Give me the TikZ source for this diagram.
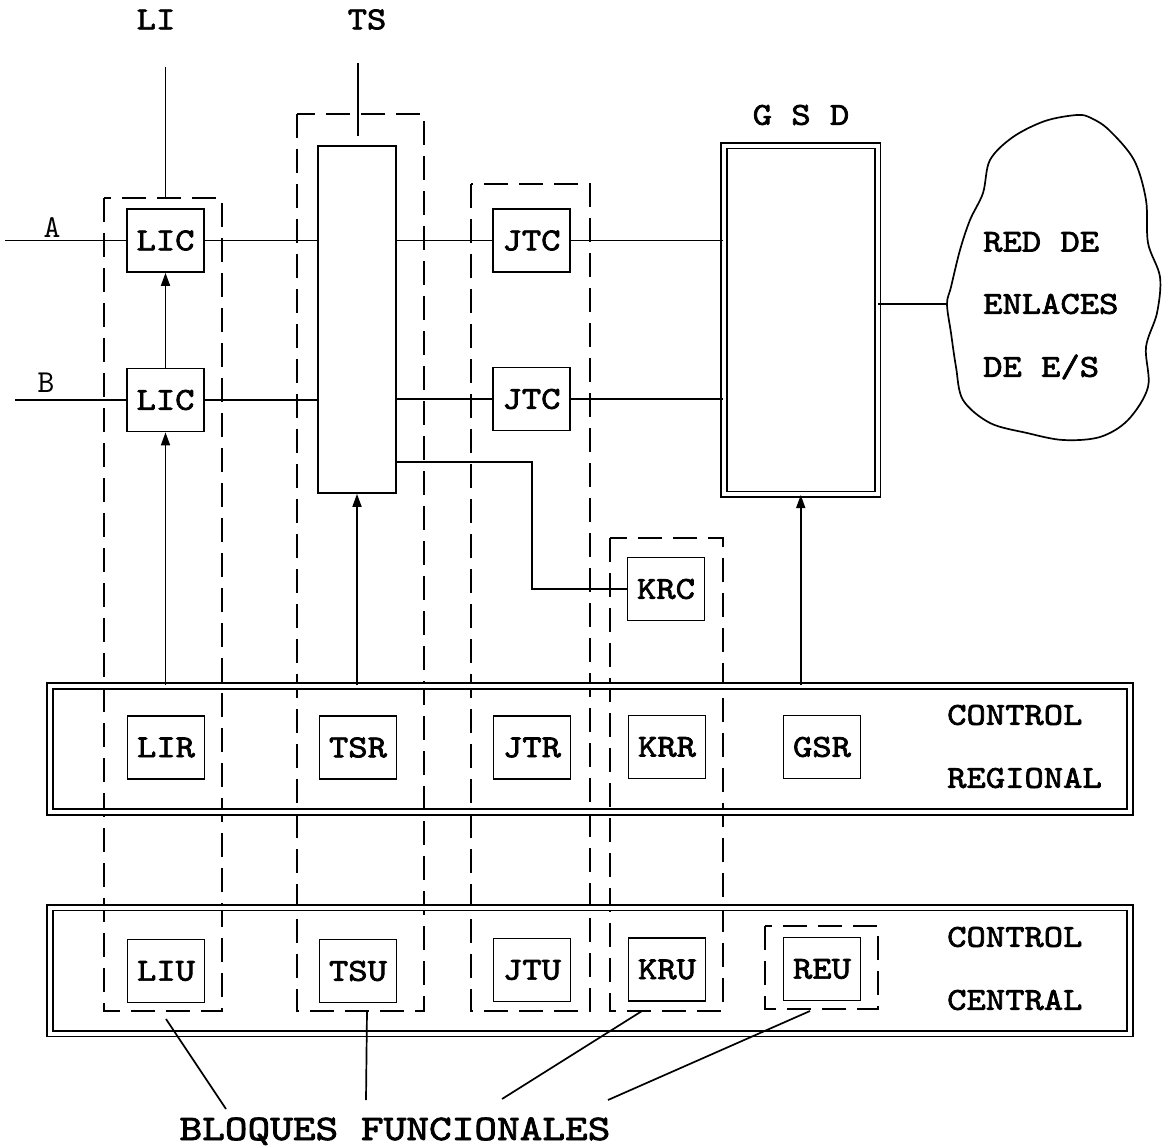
\documentclass[tikz,border=0pt]{standalone}
\usepackage{fontspec}
\newfontfamily\mono{lmmono10-regular.otf}[FakeBold=2.2, FakeStretch=1.15]
\newfontfamily\monow{lmmono10-regular.otf}[FakeBold=2.2, FakeStretch=1.2]
\newfontfamily\monothin{lmmono10-regular.otf}
\usetikzlibrary{arrows.meta}
\begin{document}
\begin{tikzpicture}[x=1pt,y=-1pt,
  lab/.style={font=\mono\fontsize{32}{36}\selectfont, inner sep=0pt},
  box/.style={draw, line width=1.7pt, minimum width=77pt, minimum height=63pt, inner sep=0pt, lab},
  conn/.style={line width=1.7pt},
  arr/.style={conn, -{Triangle[length=13pt,width=9pt]}},
  grp/.style={line width=1.8pt, dash pattern=on 24pt off 11pt},
  dbl/.style={draw, line width=1.6pt, double, double distance=4pt, inner sep=0pt},
  hand/.style={font=\monothin\fontsize{32}{36}\selectfont, inner sep=0pt},
]
\useasboundingbox (0,0) rectangle (1168,1147);

% functional block groups (dashed)
\draw[grp] (104,198) rectangle (222,1011);
\draw[grp] (297,114) rectangle (424,1011);
\draw[grp] (471,184) rectangle (590,1011);
\draw[grp] (610,538) rectangle (723,1011);
\draw[grp] (765,926) rectangle (878,1009);

% titles
\node[lab] (tLI) at (156,19.5) {LI};
\node[lab] (tTS) at (367,19.5) {TS};
\node[lab] (tGSD) at (801,115) {G S D};

% upper boxes
\node[box] (lica) at (165.5,240.5) {LIC};
\node[box] (licb) at (165.5,400) {LIC};
\node[draw, line width=1.7pt, minimum width=78pt, minimum height=347pt, inner sep=0pt] (ts) at (357,319.5) {};
\node[box] (jtc1) at (531.5,240.5) {JTC};
\node[box] (jtc2) at (531.5,399) {JTC};
\node[box] (krc) at (666,589) {KRC};
\node[dbl, minimum width=153.5pt, minimum height=348.5pt] (gsd) at (800.75,320) {};

% control bands
\node[dbl, minimum width=1080pt, minimum height=126pt] (reg) at (590,749) {};
\node[dbl, minimum width=1080pt, minimum height=126pt] (cen) at (590,970.5) {};

\node[box] (lir) at (166,747.5) {LIR};
\node[box] (tsr) at (358,747.5) {TSR};
\node[box] (jtr) at (532,747.5) {JTR};
\node[box] (krr) at (667,747) {KRR};
\node[box] (gsr) at (822,747) {GSR};
\node[lab, anchor=west] (c1) at (947,715) {CONTROL};
\node[lab, anchor=west] (c2) at (947,778) {REGIONAL};

\node[box] (liu) at (166,971) {LIU};
\node[box] (tsu) at (358,971) {TSU};
\node[box] (jtu) at (532,970) {JTU};
\node[box] (kru) at (667,969.5) {KRU};
\node[box] (reu) at (822,969) {REU};
\node[lab, anchor=west] (c3) at (947,937) {CONTROL};
\node[lab, anchor=west] (c4) at (947,1000) {CENTRAL};

% cloud
\draw[line width=1.7pt] plot[smooth cycle, tension=0.55] coordinates {
 (1077,115) (1045,121) (1013,137) (990,160) (983,193) (970,220) (960,250)
 (951,287) (947,304) (951,333) (956,367) (963,400) (990,423) (1027,433)
 (1063,440) (1100,437) (1128,420) (1148,387) (1146,347) (1157,313)
 (1160,277) (1148,243) (1146,200) (1134,160) (1109,130) (1091,118)};
\node[lab, anchor=west] (r1) at (983,242) {RED DE};
\node[lab, anchor=west] (r2) at (983,304) {ENLACES};
\node[lab, anchor=west] (r3) at (983,367) {DE E/S};
\coordinate (cl) at (947,304);

% inputs
\node[hand] (la) at (52,228) {A};
\node[hand] (lb) at (46,383) {B};
\coordinate (inA) at (5,240.5);
\coordinate (inB) at (15,400);
\draw[conn] (inA) -- (lica);
\draw[conn] (inB) -- (licb);

% top lines
\coordinate (liT) at (165.5,67);
\coordinate (liB) at (165.5,198);
\draw[conn] (liT) -- (liB);
\coordinate (tsT) at (358,63);
\coordinate (tsB) at (358,136);
\draw[conn] (tsT) -- (tsB);

% connections
\draw[conn] (lica.east) -- (lica.east -| ts.west);
\draw[conn] (licb.east) -- (licb.east -| ts.west);
\draw[conn] (jtc1.west -| ts.east) -- (jtc1.west);
\draw[conn] (jtc2.west -| ts.east) -- (jtc2.west);
\draw[conn] (jtc1.east) -- (jtc1.east -| gsd.west);
\draw[conn] (jtc2.east) -- (jtc2.east -| gsd.west);
\draw[conn] (cl -| gsd.east) -- (cl);
\coordinate (kt) at (532,462);
\draw[conn] (kt -| ts.east) -- (kt) |- (krc.west);

% arrows
\draw[arr] (licb.north) -- (lica.south);
\draw[arr] (licb.south |- reg.north) -- (licb.south);
\draw[arr] (ts.south |- reg.north) -- (ts.south);
\draw[arr] (gsd.south |- reg.north) -- (gsd.south);

% label
\node[font=\monow\fontsize{36}{40}\selectfont, inner sep=0pt, anchor=base] (bf) at (395,1140) {BLOQUES FUNCIONALES};
\coordinate (p1a) at (166,1019); \coordinate (p1b) at (226,1109);
\coordinate (p2a) at (367,1011); \coordinate (p2b) at (366,1100);
\coordinate (p3a) at (642,1011); \coordinate (p3b) at (502,1099);
\coordinate (p4a) at (810,1011); \coordinate (p4b) at (608,1100);
\draw[conn] (p1a) -- (p1b);
\draw[conn] (p2a) -- (p2b);
\draw[conn] (p3a) -- (p3b);
\draw[conn] (p4a) -- (p4b);
\end{tikzpicture}
\end{document}
